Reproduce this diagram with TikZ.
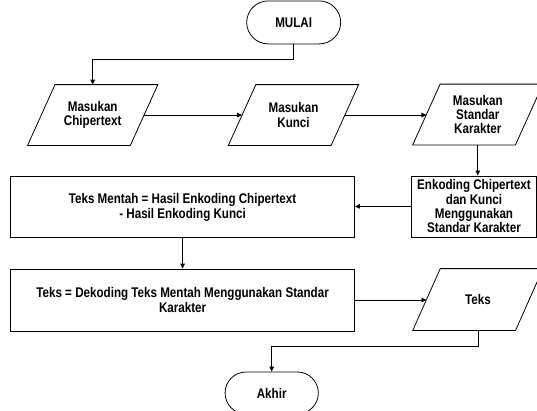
\documentclass[tikz,border=0pt]{standalone}
\usepackage{fontspec}
\setmainfont{Liberation Sans}[FakeStretch=0.83]
\usetikzlibrary{shapes.misc,arrows.meta}
\begin{document}
\begin{tikzpicture}[x=1pt,y=-1pt,
  every node/.style={font=\fontsize{14}{14.3}\selectfont\bfseries, align=center, inner sep=0pt, line width=0.8pt},
  term/.style={draw, rounded rectangle, minimum width=94pt, minimum height=43pt},
  io/.style={rectangle, minimum width=102pt, minimum height=60pt,
    append after command={\pgfextra{\draw[line width=0.8pt]
      ([xshift=-13.75pt]\tikzlastnode.south west) -- ([xshift=-13.75pt]\tikzlastnode.south east)
      -- ([xshift=13.75pt]\tikzlastnode.north east) -- ([xshift=13.75pt]\tikzlastnode.north west) -- cycle;}}},
  proc/.style={draw, rectangle, minimum height=61pt},
  arr/.style={draw, line width=0.8pt, -{Triangle[length=5pt,width=4.5pt]}}
]
\useasboundingbox (0,0) rectangle (537,410);
\clip (0,0) rectangle (537,410);

\node[term] (mulai) at (293.7,22.4) {MULAI};
\node[io] (p1) at (92.7,115) {Masukan\\Chipertext};
\node[io] (p2) at (293.5,115) {Masukan\\Kunci};
\node[io] (p3) at (477.8,114.5) {Masukan\\Standar\\Karakter};
\node[proc, minimum width=124.3pt] (enk) at (474,206.4) {Enkoding Chipertext\\dan Kunci\\Menggunakan\\Standar Karakter};
\node[proc, minimum width=343.8pt] (b1) at (182.6,207.3) {Teks Mentah = Hasil Enkoding Chipertext\\- Hasil Enkoding Kunci};
\node[proc, minimum width=343.8pt, minimum height=62pt] (b2) at (182.6,300) {Teks = Dekoding Teks Mentah Menggunakan Standar\\Karakter};
\node[io, minimum height=61pt] (teks) at (477.9,299.5) {Teks};
\node[term, minimum width=93.3pt, minimum height=42pt] (akhir) at (271.7,393) {Akhir};

\coordinate (j1) at (0,59);
\coordinate (j2) at (0,346.5);

\draw[arr] (mulai.south) -- (mulai.south |- j1) -| (p1.north);
\draw[arr] (p1.east) -- (p2.west);
\draw[arr] (p2.east) -- (p2.east -| p3.west);
\draw[arr] (p3.south) -- (p3.south |- enk.north);
\draw[arr] (enk.west) -- (enk.west -| b1.east);
\draw[arr] (b1.south) -- (b2.north);
\draw[arr] (b2.east) -- (b2.east -| teks.west);
\draw[arr] (teks.south) -- (teks.south |- j2) -| (akhir.north);
\end{tikzpicture}
\end{document}
